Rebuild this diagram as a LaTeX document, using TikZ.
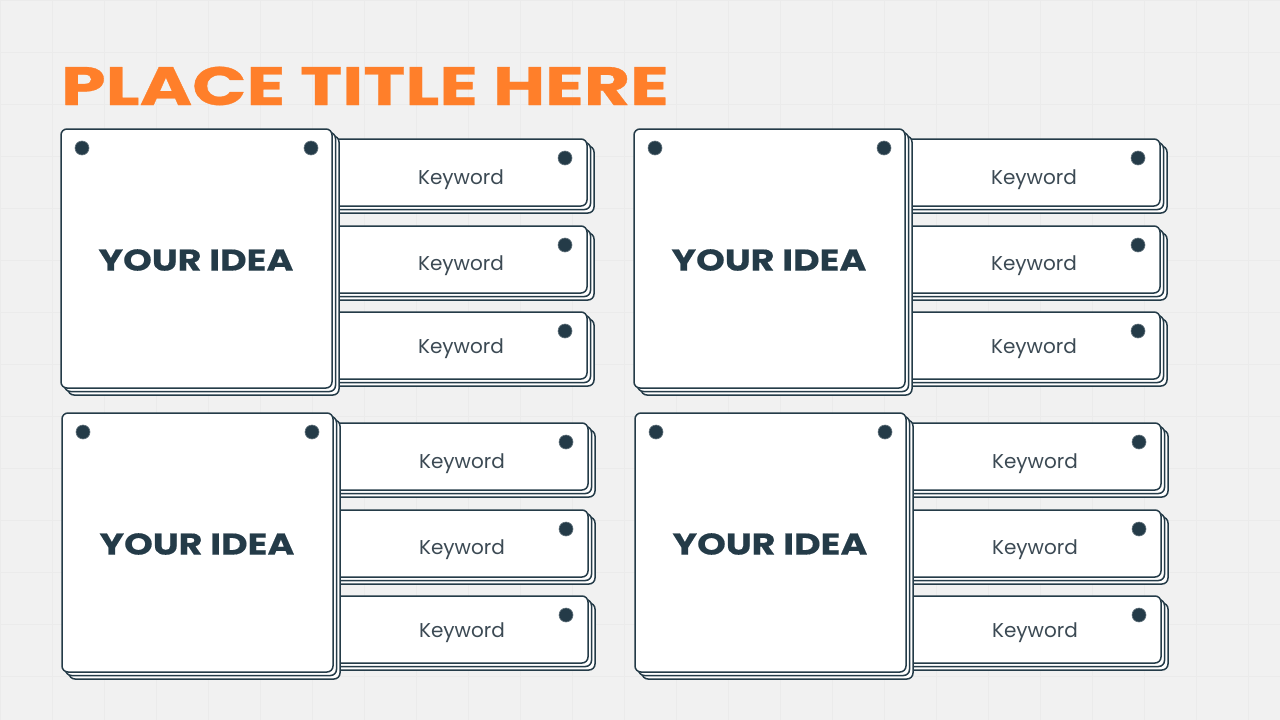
\documentclass[tikz,border=0pt]{standalone}
\usepackage{fontspec}
\setmainfont{Poppins}
\newfontfamily\titlefont[FakeStretch=1.32,FakeBold=0.6]{Poppins Bold}
\newfontfamily\ideafont[FakeStretch=1.22,FakeBold=0.4]{Poppins Bold}
\usepackage{xcolor}
\definecolor{inkline}{HTML}{243B48}
\definecolor{titleorange}{HTML}{FF7F2A}
\definecolor{paper}{HTML}{F1F1F1}
\definecolor{gridline}{HTML}{EBEBEB}
\definecolor{keygray}{HTML}{3C4A54}

\begin{document}
\begin{tikzpicture}[x=1pt,y=-1pt,
  card/.style={draw=inkline, fill=white, line width=1.5, rounded corners=6},
  pin/.style={circle, fill=inkline, draw=inkline!70, line width=0.6, inner sep=0, minimum size=14},
  ideaword/.style={font=\ideafont\fontsize{30}{30}\selectfont, text=inkline, inner sep=0},
  keyword/.style={font=\fontsize{20}{20}\selectfont, text=keygray, inner sep=0}]

\useasboundingbox (0,0) rectangle (1280,720);
\fill[paper] (0,0) rectangle (1280,720);
\foreach \g in {0,52,...,1280}{
	\draw[gridline, line width=0.8] (\g,0)--(\g,720);
}
\foreach \g in {0,52,...,720}{
	\draw[gridline, line width=0.8] (0,\g)--(1280,\g);
}

\node[anchor=base west, text=titleorange, font=\titlefont\fontsize{54}{54}\selectfont, inner sep=0] (title) at (61,105) {PLACE TITLE HERE};

\foreach \qx/\qy [count=\q] in {0/0, 573/0, 1/284, 574/284}{
	% keyword strips behind the idea card
	\foreach \ky/\ty [count=\r] in {0/180, 87/179, 173/176}{
		\pgfmathsetmacro\sy{\qy+\ky}
		\begin{scope}[shift={(\qx,\sy)}]
			\draw[card] (326,146) rectangle (594,213);
			\draw[card] (323,142.5) rectangle (590.5,209.5);
			\draw[card] (320,139) rectangle (587,206);
			\node[pin] (keypin-\q-\r) at (565,158) {};
			\node[keyword] (key-\q-\r) at (461,\ty) {Keyword};
		\end{scope}
	}
	% idea card
	\begin{scope}[shift={(\qx,\qy)}]
		\draw[card] (68,136) rectangle (339,395);
		\draw[card] (64.5,132.5) rectangle (335.5,391.5);
		\draw[card] (61,129) rectangle (332,388);
		\node[pin] (pinl-\q) at (82,148) {};
		\node[pin] (pinr-\q) at (311,148) {};
		\node[ideaword] (idea-\q) at (196,260) {YOUR IDEA};
	\end{scope}
}

\end{tikzpicture}
\end{document}
